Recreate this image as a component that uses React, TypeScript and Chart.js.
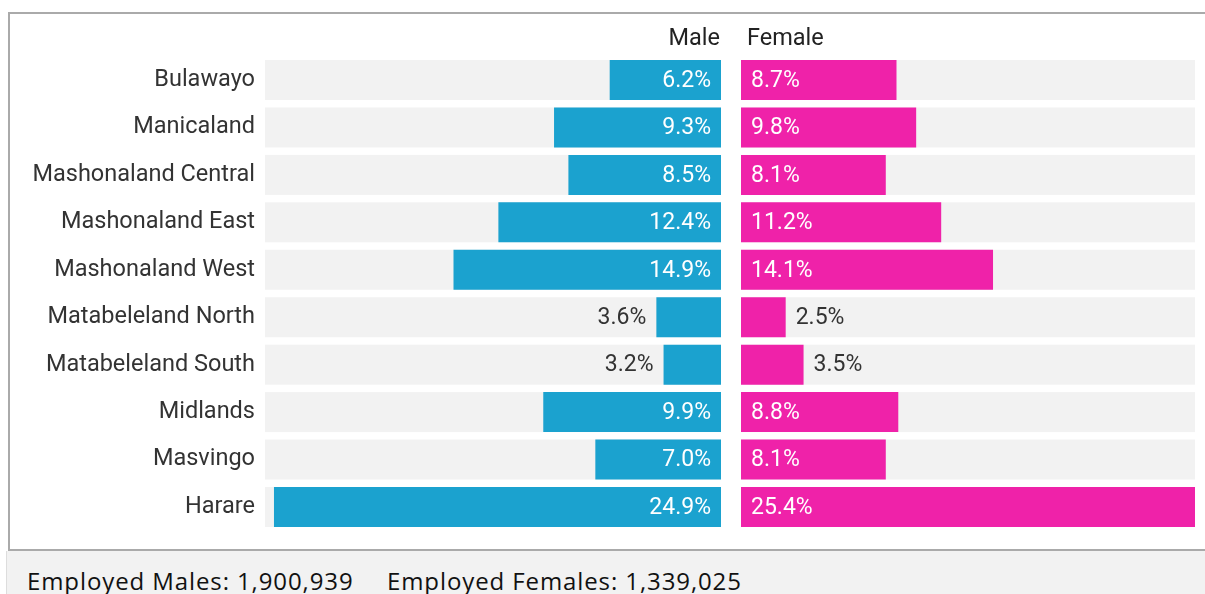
import React, { useEffect, useRef } from "react";
import { Chart, registerables } from "chart.js";

Chart.register(...registerables);

const regions = [
  "Bulawayo",
  "Manicaland",
  "Mashonaland Central",
  "Mashonaland East",
  "Mashonaland West",
  "Matabeleland North",
  "Matabeleland South",
  "Midlands",
  "Masvingo",
  "Harare",
];
const maleShare = [6.2, 9.3, 8.5, 12.4, 14.9, 3.6, 3.2, 9.9, 7.0, 24.9];
const femaleShare = [8.7, 9.8, 8.1, 11.2, 14.1, 2.5, 3.5, 8.8, 8.1, 25.4];
const seriesNames = ["Male", "Female"];
const footerTexts = ["Employed Males: 1,900,939", "Employed Females: 1,339,025"];

const MALE_COLOR = "#1ba2cf";
const FEMALE_COLOR = "#ef22a9";
const TRACK_COLOR = "#f2f2f2";
const TEXT_COLOR = "#333333";
const FONT = "Roboto";

const axisMax = Math.max(...maleShare, ...femaleShare);

const trackPlugin = {
  id: "track",
  beforeDatasetsDraw(chart: any) {
    const { ctx, chartArea } = chart;
    const meta = chart.getDatasetMeta(0);
    ctx.save();
    ctx.fillStyle = TRACK_COLOR;
    meta.data.forEach((el: any) => {
      const { y, height } = el.getProps(["y", "height"], true);
      ctx.fillRect(chartArea.left, y - height / 2, chartArea.right - chartArea.left, height);
    });
    ctx.restore();
  },
};

const valuePlugin = {
  id: "values",
  afterDatasetsDraw(chart: any) {
    const { ctx } = chart;
    const meta = chart.getDatasetMeta(0);
    const data = chart.data.datasets[0].data as number[];
    ctx.save();
    ctx.font = `23px ${FONT}`;
    ctx.textBaseline = "middle";
    meta.data.forEach((el: any, i: number) => {
      const { x, y, base } = el.getProps(["x", "y", "base"], true);
      const dir = x >= base ? 1 : -1;
      const len = Math.abs(x - base);
      const text = data[i].toFixed(1) + "%";
      ctx.textAlign = dir > 0 ? "left" : "right";
      if (len > 80) {
        ctx.fillStyle = "#ffffff";
        ctx.fillText(text, base + dir * 10, y + 1);
      } else {
        ctx.fillStyle = TEXT_COLOR;
        ctx.fillText(text, x + dir * 10, y + 1);
      }
    });
    ctx.restore();
  },
};

const headerPlugin = {
  id: "header",
  afterDraw(chart: any) {
    const { ctx, chartArea } = chart;
    const reversed = chart.options.scales.x.reverse;
    const label = chart.data.datasets[0].label;
    ctx.save();
    ctx.font = `23.5px ${FONT}`;
    ctx.fillStyle = "#222222";
    ctx.textBaseline = "alphabetic";
    if (reversed) {
      ctx.textAlign = "right";
      ctx.fillText(label, chartArea.right - 1, chartArea.top - 11);
    } else {
      ctx.textAlign = "left";
      ctx.fillText(label, chartArea.left + 6, chartArea.top - 11);
    }
    ctx.restore();
  },
};

function makeConfig(label: string, values: number[], color: string, isLeft: boolean): any {
  return {
    type: "bar",
    data: {
      labels: regions,
      datasets: [
        {
          label,
          data: values,
          backgroundColor: color,
          borderWidth: 0,
          barPercentage: 0.843,
          categoryPercentage: 1,
        },
      ],
    },
    options: {
      indexAxis: "y",
      responsive: false,
      maintainAspectRatio: false,
      animation: false,
      layout: {
        padding: isLeft
          ? { top: 42.3, bottom: 18.3, right: 10, left: 0 }
          : { top: 42.3, bottom: 18.3, right: 10, left: 10 },
      },
      plugins: {
        legend: { display: false },
        tooltip: { enabled: false },
      },
      scales: {
        x: {
          display: false,
          min: 0,
          max: axisMax,
          reverse: isLeft,
        },
        y: isLeft
          ? {
              display: true,
              grid: { display: false, drawTicks: false },
              border: { display: false },
              ticks: {
                color: TEXT_COLOR,
                font: { family: FONT, size: 23.5 },
                padding: 10,
              },
              afterFit: (scale: any) => {
                scale.width = 253;
                scale.paddingTop = 0;
                scale.paddingBottom = 0;
              },
            }
          : { display: false },
      },
    },
    plugins: [trackPlugin, valuePlugin, headerPlugin],
  };
}

export default function App() {
  const leftRef = useRef<HTMLCanvasElement>(null);
  const rightRef = useRef<HTMLCanvasElement>(null);

  useEffect(() => {
    const left = new Chart(leftRef.current!, makeConfig(seriesNames[0], maleShare, MALE_COLOR, true));
    const right = new Chart(rightRef.current!, makeConfig(seriesNames[1], femaleShare, FEMALE_COLOR, false));
    return () => {
      left.destroy();
      right.destroy();
    };
  }, []);

  return (
    <div
      style={{
        position: "fixed",
        left: 0,
        top: 0,
        width: 1205,
        height: 594,
        background: "#ffffff",
        overflow: "hidden",
      }}
    >
      <div
        style={{
          position: "absolute",
          left: 8,
          top: 12,
          width: 1197,
          height: 539,
          boxSizing: "border-box",
          borderTop: "2px solid #aaaaaa",
          borderLeft: "2px solid #aaaaaa",
          borderBottom: "2px solid #aaaaaa",
        }}
      />
      <canvas
        ref={leftRef}
        width={719}
        height={535}
        style={{ position: "absolute", left: 12, top: 14, width: 719, height: 535 }}
      />
      <canvas
        ref={rightRef}
        width={474}
        height={535}
        style={{ position: "absolute", left: 731, top: 14, width: 474, height: 535 }}
      />
      <div
        style={{
          position: "absolute",
          left: 6,
          top: 551,
          width: 1199,
          height: 43,
          background: "#f2f2f2",
          borderLeft: "1px solid #dddddd",
          boxSizing: "border-box",
          overflow: "hidden",
          fontFamily: "'Open Sans', sans-serif",
          fontSize: 24,
          lineHeight: "24px",
          letterSpacing: "0.9px",
          color: "#111111",
          whiteSpace: "nowrap",
        }}
      >
        <span style={{ position: "absolute", left: 20, top: 18 }}>{footerTexts[0]}</span>
        <span style={{ position: "absolute", left: 380, top: 18 }}>{footerTexts[1]}</span>
      </div>
    </div>
  );
}
